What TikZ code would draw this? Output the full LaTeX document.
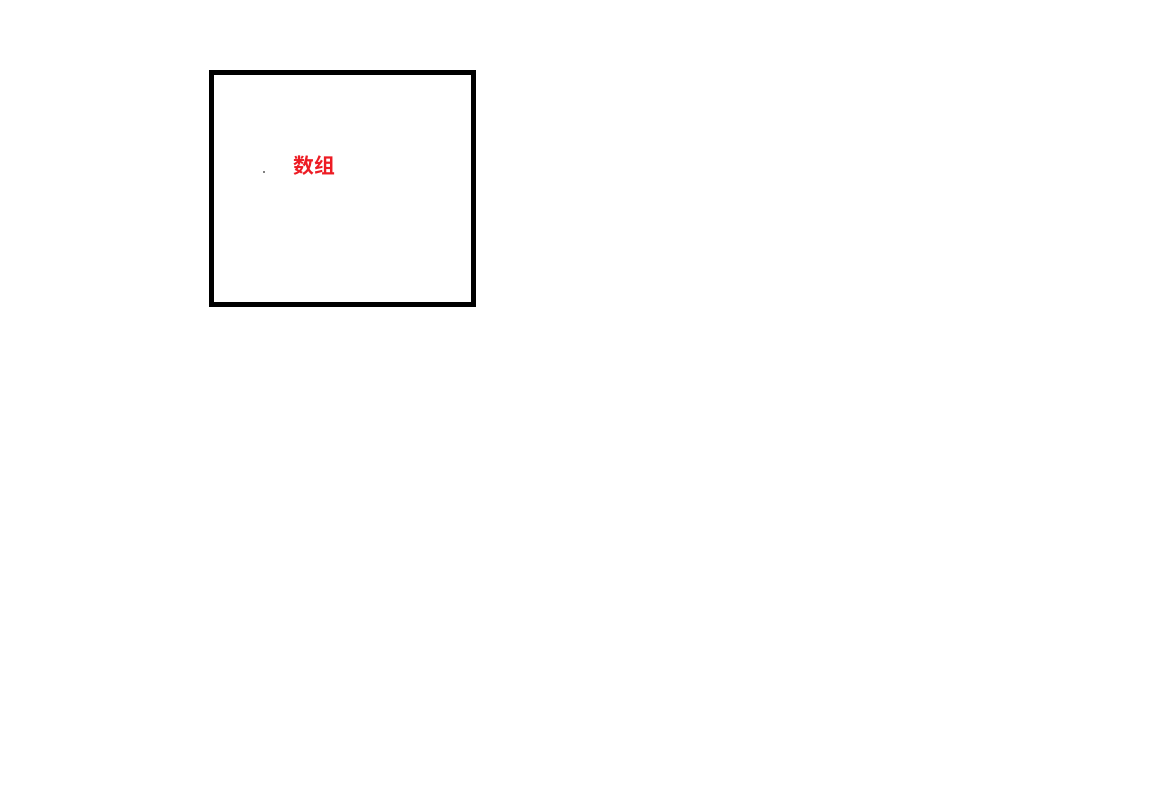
\documentclass[tikz,border=0pt]{standalone}
\usepackage{fontspec}
\usepackage{tikz}
\usepackage{xcolor}
\usetikzlibrary{positioning,calc}
\newfontfamily\cjk{Noto Sans CJK SC}[BoldFont={Noto Sans CJK SC Bold}]
\definecolor{arrred}{RGB}{237,28,36}

\begin{document}
\begin{tikzpicture}[x=0.75pt,y=-0.75pt,
    frame/.style={draw=black, line width=3.75pt},
    label/.style={text=arrred, font=\cjk\bfseries\fontsize{15.6}{18}\selectfont, inner sep=0pt}]
    \useasboundingbox (0,0) rectangle (1175,810);
    \draw[frame] (211.5,72.5) rectangle (473.5,304.5);
    \node[label] (arr) at (314,166) {数组};
    \fill (264,172) circle (0.9);
\end{tikzpicture}
\end{document}
